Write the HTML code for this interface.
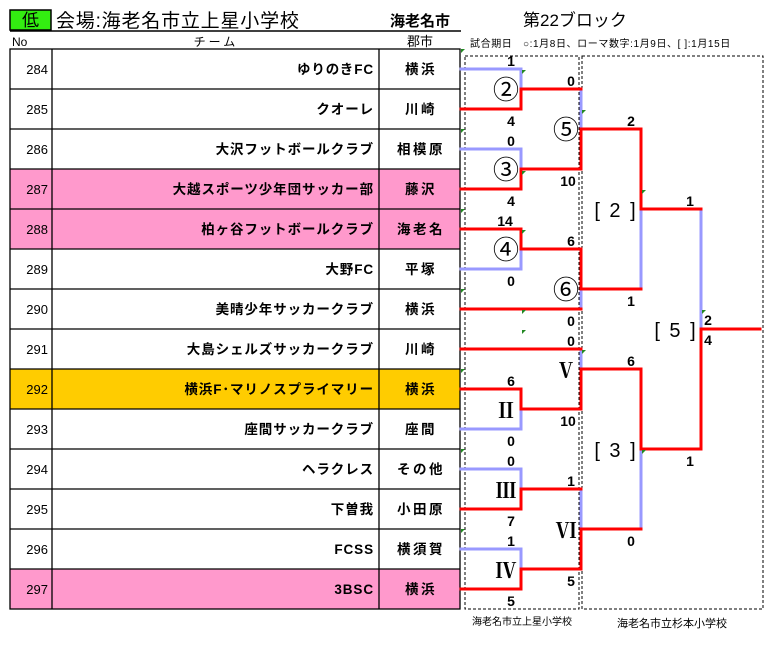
<!DOCTYPE html>
<html><head><meta charset="utf-8"><style>
html,body{margin:0;padding:0;background:#fff;}
svg{display:block;font-family:"Liberation Sans","Noto Sans CJK JP",sans-serif;}
.t{font-weight:bold;font-size:13.5px;letter-spacing:0.9px;}
.c{font-weight:bold;font-size:13.5px;letter-spacing:2.5px;}
.s{font-weight:bold;font-size:14px;}
.n{font-size:13px;}
</style></head><body>
<svg width="770" height="648" viewBox="0 0 770 648" xmlns="http://www.w3.org/2000/svg">
<rect x="10" y="10" width="41" height="20" fill="#33ee11" stroke="#000" stroke-width="1.5"/>
<text x="30.5" y="26" text-anchor="middle" font-size="17">低</text>
<text x="56" y="27" font-size="19" letter-spacing="0.8">会場:海老名市立上星小学校</text>
<text x="390" y="26" font-size="15" font-weight="bold">海老名市</text>
<text x="523" y="26" font-size="17">第22ブロック</text>
<line x1="10" y1="31" x2="461" y2="31" stroke="#000" stroke-width="1.5"/>
<text x="12" y="46" font-size="12">No</text>
<text x="216" y="46" font-size="12" text-anchor="middle" letter-spacing="3">チーム</text>
<text x="420" y="46" font-size="13" text-anchor="middle">郡市</text>
<text x="470" y="47" font-size="10" letter-spacing="0.6">試合期日　○:1月8日、ローマ数字:1月9日、[ ]:1月15日</text>
<rect x="10" y="169" width="450" height="80" fill="#ff99cc"/>
<rect x="10" y="369" width="450" height="40" fill="#ffcc00"/>
<rect x="10" y="569" width="450" height="40" fill="#ff99cc"/>
<g stroke="#000" stroke-width="1.3" fill="none">
<rect x="10" y="49" width="450" height="560"/>
<line x1="52" y1="49" x2="52" y2="609"/>
<line x1="379" y1="49" x2="379" y2="609"/>
<path d="M10 89H460M10 129H460M10 169H460M10 209H460M10 249H460M10 289H460M10 329H460M10 369H460M10 409H460M10 449H460M10 489H460M10 529H460M10 569H460"/>
</g>
<g class="n" text-anchor="end">
<text x="48" y="74">284</text><text x="48" y="114">285</text><text x="48" y="154">286</text><text x="48" y="194">287</text><text x="48" y="234">288</text><text x="48" y="274">289</text><text x="48" y="314">290</text><text x="48" y="354">291</text><text x="48" y="394">292</text><text x="48" y="434">293</text><text x="48" y="474">294</text><text x="48" y="514">295</text><text x="48" y="554">296</text><text x="48" y="594">297</text>
</g>
<g class="t" text-anchor="end">
<text x="374" y="74">ゆりのきFC</text><text x="374" y="114">クオーレ</text><text x="374" y="154">大沢フットボールクラブ</text><text x="374" y="194">大越スポーツ少年団サッカー部</text><text x="374" y="234">柏ヶ谷フットボールクラブ</text><text x="374" y="274">大野FC</text><text x="374" y="314">美晴少年サッカークラブ</text><text x="374" y="354">大島シェルズサッカークラブ</text><text x="374" y="394">横浜F･マリノスプライマリー</text><text x="374" y="434">座間サッカークラブ</text><text x="374" y="474">ヘラクレス</text><text x="374" y="514">下曽我</text><text x="374" y="554">FCSS</text><text x="374" y="594">3BSC</text>
</g>
<g class="c" text-anchor="middle">
<text x="421" y="74">横浜</text><text x="421" y="114">川崎</text><text x="421" y="154">相模原</text><text x="421" y="194">藤沢</text><text x="421" y="234">海老名</text><text x="421" y="274">平塚</text><text x="421" y="314">横浜</text><text x="421" y="354">川崎</text><text x="421" y="394">横浜</text><text x="421" y="434">座間</text><text x="421" y="474">その他</text><text x="421" y="514">小田原</text><text x="421" y="554">横須賀</text><text x="421" y="594">横浜</text>
</g>
<g stroke="#000" stroke-width="1" stroke-dasharray="3,2" fill="none">
<rect x="465" y="56" width="114" height="553"/>
<rect x="582" y="56" width="181" height="553"/>
</g>
<text x="522" y="625" font-size="10" text-anchor="middle">海老名市立上星小学校</text>
<text x="672" y="627" font-size="11" text-anchor="middle">海老名市立杉本小学校</text>
<g fill="none" stroke-width="3" stroke-linecap="square">
<g stroke="#9999ff">
<path d="M461 69H521V89"/>
<path d="M461 149H521V169"/>
<path d="M521 249V269H461"/>
<path d="M581 89V129"/>
<path d="M581 279V309"/>
<path d="M641 209V289"/>
<path d="M701 209V329"/>
<path d="M581 349V369"/>
<path d="M521 409V429H461"/>
<path d="M461 469H521V489"/>
<path d="M461 549H521V569"/>
<path d="M581 489V529"/>
<path d="M641 449V529"/>
</g>
<g stroke="#ff0000">
<path d="M461 109H521V89H581"/>
<path d="M461 189H521V169H581V129H641"/>
<path d="M461 229H521V249H581V289H641"/>
<path d="M461 309H581"/>
<path d="M641 129V209H701"/>
<path d="M461 349H581"/>
<path d="M461 389H521V409H581V369H641V449H701V329H760"/>
<path d="M461 509H521V489H581"/>
<path d="M461 589H521V569H581V529H641"/>
</g>
</g>
<g font-size="26" text-anchor="middle">
<text x="506" y="99">②</text><text x="506" y="179">③</text><text x="506" y="259">④</text>
<text x="566" y="139">⑤</text><text x="566" y="299">⑥</text>
</g>
<g font-family="'Liberation Serif','Noto Serif CJK SC',serif" font-size="21" text-anchor="middle" font-weight="bold">
<text x="566" y="378">Ⅴ</text><text x="506" y="418">Ⅱ</text><text x="506" y="498">Ⅲ</text><text x="566" y="538">Ⅵ</text><text x="506" y="578">Ⅳ</text>
</g>
<g font-size="20" text-anchor="middle" letter-spacing="2">
<text x="616" y="217">[ 2 ]</text><text x="616" y="457">[ 3 ]</text><text x="676" y="337">[ 5 ]</text>
</g>
<g class="s" text-anchor="middle">
<text x="511" y="66">1</text><text x="511" y="126">4</text><text x="571" y="86">0</text>
<text x="511" y="146">0</text><text x="568" y="186">10</text><text x="511" y="206">4</text>
<text x="505" y="226">14</text><text x="571" y="246">6</text><text x="511" y="286">0</text>
<text x="571" y="326">0</text><text x="631" y="126">2</text><text x="631" y="306">1</text>
<text x="690" y="206">1</text><text x="708" y="325">2</text><text x="708" y="345">4</text>
<text x="571" y="346">0</text><text x="511" y="386">6</text><text x="568" y="426">10</text>
<text x="511" y="446">0</text><text x="631" y="366">6</text><text x="690" y="466">1</text>
<text x="511" y="466">0</text><text x="571" y="486">1</text><text x="511" y="526">7</text>
<text x="631" y="546">0</text><text x="511" y="546">1</text><text x="571" y="586">5</text>
<text x="511" y="606">5</text>
</g>
<g fill="#228822">
<path d="M461 49h4l-4 4z"/><path d="M461 129h4l-4 4z"/><path d="M461 209h4l-4 4z"/><path d="M461 289h4l-4 4z"/><path d="M461 369h4l-4 4z"/><path d="M461 449h4l-4 4z"/><path d="M461 529h4l-4 4z"/>
<path d="M522 70h4l-4 4z"/><path d="M522 171h4l-4 4z"/><path d="M522 230h4l-4 4z"/><path d="M522 310h4l-4 4z"/><path d="M522 330h4l-4 4z"/>
<path d="M582 110h4l-4 4z"/><path d="M582 350h4l-4 4z"/><path d="M642 190h4l-4 4z"/><path d="M642 450h4l-4 4z"/><path d="M702 310h4l-4 4z"/>
</g>
</svg>
</body></html>
